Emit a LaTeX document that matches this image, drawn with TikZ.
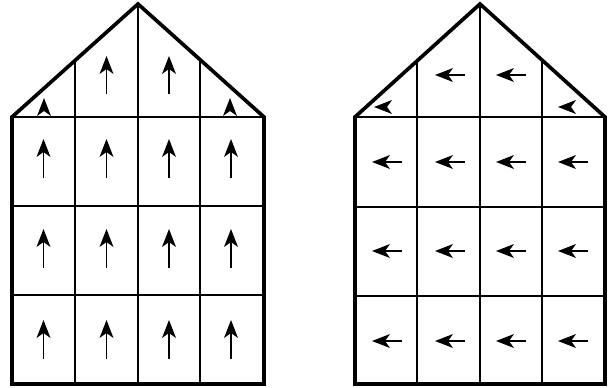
\documentclass[tikz,border=0pt]{standalone}
\usepackage{tikz}

\tikzset{
  outline/.style={line width=2.6pt,line join=miter},
  cellline/.style={line width=1.1pt},
  shaft/.style={line width=1.25pt},
  pics/uphead/.style={code={\fill (0,0) -- (-7,18) -- (0,13) -- (7,18) -- cycle;}},
  pics/lefthead/.style={code={\fill (0,0) -- (18,-7) -- (13,0) -- (18,7) -- cycle;}},
}

\begin{document}
\begin{tikzpicture}[x=0.025cm,y=-0.025cm]
\useasboundingbox (0,0) rectangle (609,387);

% left house, flow pointing up
\coordinate (apexL) at (138,4);
\foreach \y in {117,206,295}
  \draw[cellline] (12,\y) -- (264,\y);
\draw[cellline] (75,60.5) -- (75,384);
\draw[cellline] (apexL) -- (138,384);
\draw[cellline] (200,60) -- (200,384);
\draw[outline] (12,384) -- (12,117) -- (apexL) -- (264,117) -- (264,384) -- cycle;

\foreach \cx in {43.5,106.5,169,231}
  \foreach \cy in {159,249,340} {
    \draw[shaft] (\cx,\cy+19) -- (\cx,\cy-8);
    \pic at (\cx,\cy-20) {uphead};
  }
\foreach \cx in {106.5,169} {
  \draw[shaft] (\cx,94) -- (\cx,68);
  \pic at (\cx,56) {uphead};
}
\pic at (44,98) {uphead};
\pic at (230,98) {uphead};

% right house, flow pointing left
\coordinate (apexR) at (480,4);
\foreach \y in {117,207,296}
  \draw[cellline] (355,\y) -- (605,\y);
\draw[cellline] (417,61) -- (417,384);
\draw[cellline] (apexR) -- (480,384);
\draw[cellline] (542,60) -- (542,384);
\draw[outline] (355,384) -- (355,117) -- (apexR) -- (605,117) -- (605,384) -- cycle;

\foreach \cx in {387,450,511,573}
  \foreach \cy in {162,251,341} {
    \draw[shaft] (\cx+14.5,\cy) -- (\cx-3.5,\cy);
    \pic at (\cx-15,\cy) {lefthead};
  }
\foreach \cx in {450,511} {
  \draw[shaft] (\cx+14.5,75) -- (\cx-3.5,75);
  \pic at (\cx-15,75) {lefthead};
}
\pic at (374,107) {lefthead};
\pic at (558,107) {lefthead};
\end{tikzpicture}
\end{document}
